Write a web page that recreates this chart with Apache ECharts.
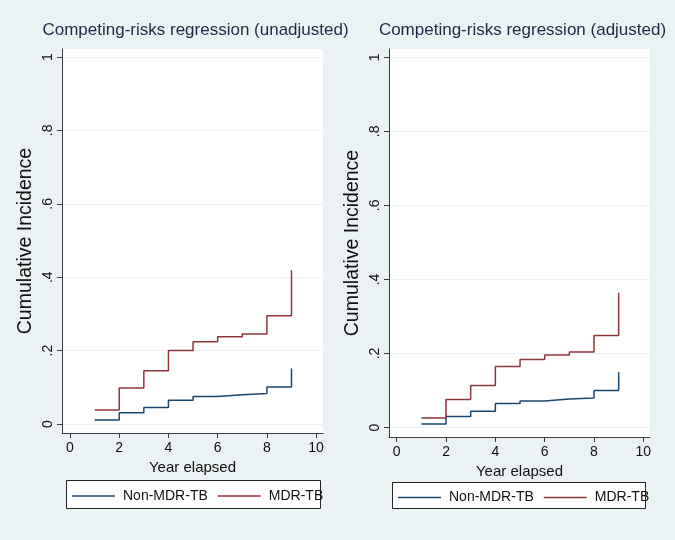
<!DOCTYPE html>
<html><head><meta charset="utf-8">
<script src="https://cdn.jsdelivr.net/npm/echarts@6/dist/echarts.min.js"></script>
<style>html,body{margin:0;padding:0;background:#eaf2f3}#c{width:675px;height:540px}</style>
</head><body><div id="c"></div>
<script>
// ---- data ----
var years = [1, 2, 3, 4, 5, 6, 7, 8, 9];
var unadjNonMDR = [0.011, 0.031, 0.045, 0.065, 0.075, 0.080, 0.083, 0.101, 0.151];
var unadjMDR    = [0.038, 0.098, 0.145, 0.200, 0.224, 0.238, 0.245, 0.295, 0.419];
var adjNonMDR   = [0.010, 0.030, 0.044, 0.065, 0.072, 0.077, 0.080, 0.100, 0.150];
var adjMDR      = [0.026, 0.076, 0.114, 0.165, 0.184, 0.196, 0.204, 0.249, 0.364];
var xTicks = [0, 2, 4, 6, 8, 10];
var yTicks = [0, 0.2, 0.4, 0.6, 0.8, 1];
var yTickLabels = ['0', '.2', '.4', '.6', '.8', '1'];
var titles = ['Competing-risks regression (unadjusted)', 'Competing-risks regression (adjusted)'];
var seriesNames = ['Non-MDR-TB', 'MDR-TB'];

// ---- styling ----
var NAVY = '#1a476f', MAROON = '#90353b', AX = '#3c3c3c', GRIDC = '#eaf2f3';
var FONT = 'Liberation Sans, Arial, sans-serif';

// Steps: last value is drawn as vertical jump at final year
function stepData(vals) {
  var d = [];
  for (var i = 0; i < vals.length; i++) d.push([years[i], vals[i]]);
  d.splice(vals.length - 1, 0, [years[vals.length - 1], vals[vals.length - 2]]);
  return d;
}

var panels = [
  {left: 62, top: 49, width: 261, height: 384, xmin: -0.325, xmax: 10.28, ymin: -0.0245, ymax: 1.0218, data: [unadjNonMDR, unadjMDR]},
  {left: 389, top: 49, width: 261, height: 388, xmin: -0.312, xmax: 10.27, ymin: -0.0254, ymax: 1.0224, data: [adjNonMDR, adjMDR]}
];

var grid = [], xAxis = [], yAxis = [], series = [], title = [], legend = [], graphic = [];
var legendBoxes = [{x: 66, y: 480, w: 254, h: 28, lx: 72, ly: 489}, {x: 392, y: 482, w: 253, h: 26, lx: 398, ly: 490.5}];
panels.forEach(function (p, k) {
  grid.push({left: p.left, top: p.top, width: p.width, height: p.height, show: true, backgroundColor: '#ffffff', borderWidth: 0});
  title.push({text: titles[k], left: p.left + p.width / 2 - 2, top: 17, textAlign: 'center',
    textStyle: {fontFamily: FONT, fontSize: 17, fontWeight: 'normal', color: '#1c2a44'}});
  xAxis.push({type: 'value', gridIndex: k, min: p.xmin, max: p.xmax,
    name: 'Year elapsed', nameLocation: 'middle', nameGap: 27,
    nameTextStyle: {fontFamily: FONT, fontSize: 15, color: '#111'},
    axisLine: {show: true, onZero: false, lineStyle: {color: AX, width: 1}},
    axisTick: {show: true, length: 5, lineStyle: {color: AX}, customValues: xTicks},
    axisLabel: {customValues: xTicks, fontFamily: FONT, fontSize: 14, color: '#111', margin: 8},
    splitLine: {show: false}});
  yAxis.push({type: 'value', gridIndex: k, min: p.ymin, max: p.ymax,
    name: 'Cumulative Incidence', nameLocation: 'middle', nameGap: 26,
    nameTextStyle: {fontFamily: FONT, fontSize: 19.5, color: '#111'},
    axisLine: {show: true, onZero: false, lineStyle: {color: AX, width: 1}},
    axisTick: {show: true, length: 5, lineStyle: {color: AX}, customValues: yTicks},
    axisLabel: {customValues: yTicks, rotate: 90, fontFamily: FONT, fontSize: 14, color: '#111', margin: 7,
      formatter: function (v) { var i = yTicks.indexOf(v); return i >= 0 ? yTickLabels[i] : ''; }},
    splitLine: {show: true, lineStyle: {color: GRIDC, width: 1}}});
  [NAVY, MAROON].forEach(function (c, j) {
    series.push({name: seriesNames[j], type: 'line', xAxisIndex: k, yAxisIndex: k, step: 'end',
      data: stepData(p.data[j]), symbol: 'none', lineStyle: {color: c, width: 1.5}, itemStyle: {color: c}, silent: true, animation: false});
  });
  var b = legendBoxes[k];
  graphic.push({type: 'rect', z: 0, shape: {x: b.x + 0.5, y: b.y + 0.5, width: b.w, height: b.h},
    style: {fill: '#ffffff', stroke: '#222', lineWidth: 1}});
  legend.push({data: seriesNames, left: b.lx, top: b.ly, itemWidth: 43, itemHeight: 1.5, icon: 'rect', itemGap: 10,
    padding: 0, z: 10, selectedMode: false,
    textStyle: {fontFamily: FONT, fontSize: 14, color: '#111', padding: [0, 0, 0, 3]}});
});

var chart = echarts.init(document.getElementById('c'), null, {renderer: 'canvas'});
chart.setOption({backgroundColor: '#eaf2f3', animation: false, grid: grid, xAxis: xAxis, yAxis: yAxis,
  series: series, title: title, legend: legend, graphic: graphic});
</script></body></html>
